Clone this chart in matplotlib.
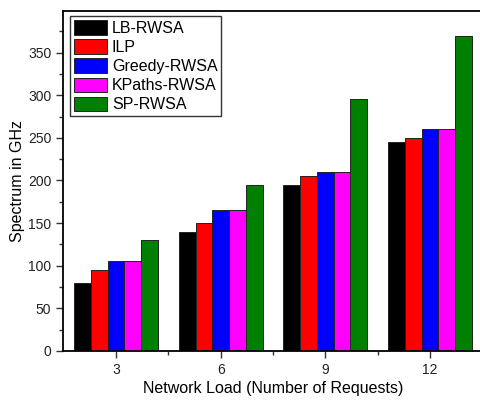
import numpy as np
import matplotlib.pyplot as plt
from matplotlib.ticker import MultipleLocator

plt.rcParams['font.family'] = ['Liberation Sans', 'DejaVu Sans']

loads = [3, 6, 9, 12]
series_names = ["LB-RWSA", "ILP", "Greedy-RWSA", "KPaths-RWSA", "SP-RWSA"]
lb_rwsa = [80, 140, 195, 245]
ilp = [95, 150, 205, 250]
greedy_rwsa = [105, 165, 210, 260]
kpaths_rwsa = [105, 165, 210, 260]
sp_rwsa = [130, 195, 295, 370]
colors = ["#000000", "#ff0000", "#0000ff", "#ff00ff", "#008000"]

fig = plt.figure(figsize=(4.81, 4.0), dpi=100)
# right edge of the axes runs past the figure, as in the cropped original
ax = fig.add_axes([63 / 481, 0.1225, (483 - 63) / 481, 0.8505])

bar_w = 0.48
x = np.array(loads, dtype=float)
all_series = [lb_rwsa, ilp, greedy_rwsa, kpaths_rwsa, sp_rwsa]
for i, (vals, name, c) in enumerate(zip(all_series, series_names, colors)):
    offset = (i - 2) * bar_w
    ax.bar(x + offset, vals, width=bar_w, color=c, edgecolor="#222222",
           linewidth=0.7, label=name)

ax.set_xlim(1.48, 13.52)
ax.set_ylim(0, 399)
ax.set_xticks(loads)
ax.set_yticks(np.arange(0, 351, 50))
ax.yaxis.set_minor_locator(MultipleLocator(25))
# minor x ticks only at the midpoints between loads
ax.xaxis.set_minor_locator(plt.FixedLocator([4.5, 7.5, 10.5]))
ax.tick_params(axis="both", which="major", direction="out", length=5,
               width=1, labelsize=10, colors="#333333", labelcolor="#222222")
ax.tick_params(axis="both", which="minor", direction="out", length=3, width=1,
               colors="#333333")

for s in ax.spines.values():
    s.set_linewidth(1.3)

ax.set_xlabel("Network Load (Number of Requests)", fontsize=11.5, labelpad=3)
ax.set_ylabel("Spectrum in GHz", fontsize=11.5, labelpad=2)

leg = ax.legend(loc="upper left", bbox_to_anchor=(0.008, 0.993), fontsize=11.5,
                frameon=True, fancybox=False, edgecolor="#000000",
                handlelength=2.1, handleheight=1.05, handletextpad=0.3,
                labelspacing=0.2, borderpad=0.25, borderaxespad=0.2)
leg.get_frame().set_linewidth(1.0)

fig.savefig("out.png", dpi=100)
